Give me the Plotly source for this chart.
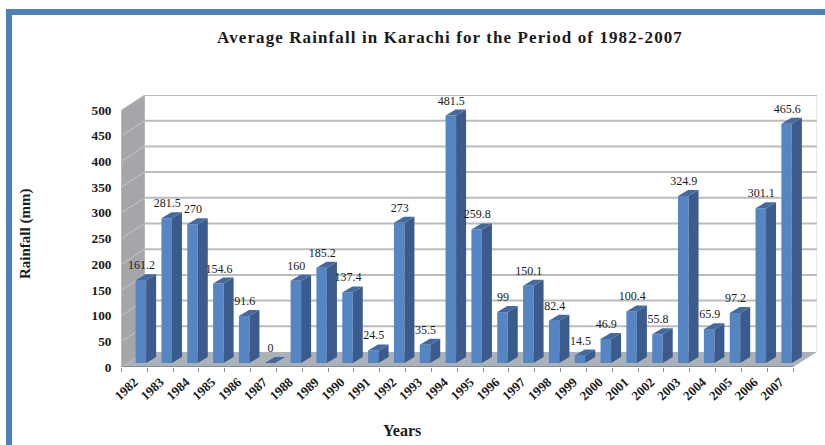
import plotly.graph_objects as go

years = [str(y) for y in range(1982, 2008)]
rainfall = [161.2, 281.5, 270, 154.6, 91.6, 0, 160, 185.2, 137.4, 24.5, 273, 35.5, 481.5,
            259.8, 99, 150.1, 82.4, 14.5, 46.9, 100.4, 55.8, 324.9, 65.9, 97.2, 301.1, 465.6]
y_ticks = list(range(0, 501, 50))

W, H = 825, 445
X0, X1 = 121.5, 817.0      # pixel extents of the plot
Y0, Y1 = 367.0, 95.0
CAT_PX = 25.83
VAL_PX = 0.514
x_max = (X1 - X0) / CAT_PX
y_max = (Y0 - Y1) / VAL_PX
wall_dx = 23 / CAT_PX
wall_dy = 15 / VAL_PX
bar_w = 10.5 / CAT_PX
bar_base = 4 / VAL_PX
bar_off = 0.75
side_dx = 10 / CAT_PX
side_dy = 6 / VAL_PX
n = len(years)

FRONT, SIDE, TOP = "#5685c4", "#3a5b8c", "#44699f"
SERIF = "Liberation Serif"
TXT = "#1a1a1a"


def poly(pts):
    return "M" + " L".join(f"{a},{b}" for a, b in pts) + " Z"


shapes = [
    dict(type="rect", xref="paper", yref="paper", x0=6 / W, x1=1, y0=1 - 15 / H, y1=1 - 9 / H,
         fillcolor="#4f7fb8", line_width=0),
    dict(type="rect", xref="paper", yref="paper", x0=6 / W, x1=12 / W, y0=0, y1=1 - 9 / H,
         fillcolor="#4f7fb8", line_width=0),
    # left wall
    dict(type="path", xref="x", yref="y", layer="below",
         path=poly([(0, 0), (wall_dx, wall_dy), (wall_dx, y_ticks[-1] + wall_dy), (0, y_ticks[-1])]),
         fillcolor="#a5a6aa", line_width=0),
    # floor
    dict(type="path", xref="x", yref="y", layer="below",
         path=poly([(0, 0), (wall_dx, wall_dy), (x_max, wall_dy), (n, 0)]),
         fillcolor="#abb1b8", line_width=0),
    # right edge of back wall
    dict(type="line", xref="x", yref="y", layer="below", x0=x_max, x1=x_max, y0=wall_dy,
         y1=y_ticks[-1] + wall_dy, line=dict(color="#d0d0d0", width=1)),
    dict(type="line", xref="x", yref="y", layer="below", x0=wall_dx, x1=wall_dx, y0=wall_dy,
         y1=y_ticks[-1] + wall_dy, line=dict(color="#b5b5b5", width=1)),
    # axes
    dict(type="line", xref="x", yref="y", layer="below", x0=0, x1=n, y0=0, y1=0,
         line=dict(color="#858b92", width=2)),
    dict(type="line", xref="x", yref="y", layer="below", x0=0, x1=0, y0=0, y1=y_ticks[-1],
         line=dict(color="#8a8a8a", width=1)),
]
for v in y_ticks:
    if v > 0:
        shapes.append(dict(type="line", xref="x", yref="y", layer="below", x0=wall_dx, x1=x_max,
                           y0=v + wall_dy, y1=v + wall_dy, line=dict(color="#bcbcbc", width=2)))
        shapes.append(dict(type="line", xref="x", yref="y", layer="below", x0=0, x1=wall_dx,
                           y0=v, y1=v + wall_dy, line=dict(color="#c4c4c4", width=1)))

fig = go.Figure()
centres = [i + bar_off for i in range(n)]
fig.add_bar(x=centres, y=rainfall, base=bar_base, width=bar_w, marker=dict(color=FRONT, line_width=0),
            showlegend=False, hoverinfo="skip")

for c, v in zip(centres, rainfall):
    l, r = c - bar_w / 2, c + bar_w / 2
    b, t = bar_base, bar_base + v
    fig.add_scatter(x=[r, r + side_dx, r + side_dx, r, r], y=[b, b + side_dy, t + side_dy, t, b],
                    mode="lines", fill="toself", fillcolor=SIDE, line=dict(width=0), showlegend=False,
                    hoverinfo="skip")
    fig.add_scatter(x=[l, r, r + side_dx, l + side_dx, l], y=[t, t, t + side_dy, t + side_dy, t],
                    mode="lines", fill="toself", fillcolor=TOP, line=dict(width=0), showlegend=False,
                    hoverinfo="skip")

fig.add_scatter(x=[c + 0.02 for c in centres], y=[bar_base + v + side_dy + 8 / VAL_PX for v in rainfall],
                mode="text", text=[f"{v:g}" for v in rainfall],
                textfont=dict(family=SERIF, size=12, color=TXT), textposition="middle center",
                showlegend=False, hoverinfo="skip", cliponaxis=False)

fig.update_layout(
    width=W, height=H, margin=dict(l=0, r=0, t=0, b=0, autoexpand=False), paper_bgcolor="white", plot_bgcolor="white",
    showlegend=False, shapes=shapes, barmode="overlay",
    title=dict(text="<b>Average Rainfall in Karachi for the Period of 1982-2007</b>",
               x=450 / W, xanchor="center", y=1 - 37 / H, yanchor="middle",
               font=dict(family=SERIF, size=17, color=TXT)),
    xaxis=dict(domain=[X0 / W, X1 / W], range=[0, x_max], showgrid=False, zeroline=False, showline=False,
               tickmode="array", tickvals=[i + 0.5 for i in range(n)], ticktext=years, tickangle=-43,
               ticks="", ticklabelstandoff=4, tickfont=dict(family=SERIF, size=13, color=TXT, weight="bold"),
               minor=dict(tickmode="array", tickvals=list(range(n + 1)), ticks="outside", ticklen=4,
                          tickcolor="#858b92", showgrid=False)),
    yaxis=dict(domain=[1 - Y0 / H, 1 - Y1 / H], range=[0, y_max], showgrid=False, zeroline=False,
               showline=False, tickmode="array", tickvals=y_ticks, ticks="", ticklabelstandoff=9,
               tickfont=dict(family=SERIF, size=13.3, color=TXT, weight="bold")),
    annotations=[
        dict(text="<b>Years</b>", xref="paper", yref="paper", x=402 / W, y=1 - 430 / H, showarrow=False,
             xanchor="center", yanchor="middle", font=dict(family=SERIF, size=16, color=TXT)),
        dict(text="<b>Rainfall (mm)</b>", xref="paper", yref="paper", x=25 / W, y=1 - 234 / H, showarrow=False,
             textangle=-90, xanchor="center", yanchor="middle", font=dict(family=SERIF, size=15, color=TXT)),
    ],
)

fig.write_html("out.html", config=dict(displayModeBar=False), default_width="825px", default_height="445px",
               post_script="var g=document.getElementById('{plot_id}');var p=g.parentElement;p.style.position='absolute';p.style.left='0';p.style.top='0';document.body.style.margin='0';var t=g.querySelector('.gtitle');if(t){t.style.letterSpacing='1.1px';}")
